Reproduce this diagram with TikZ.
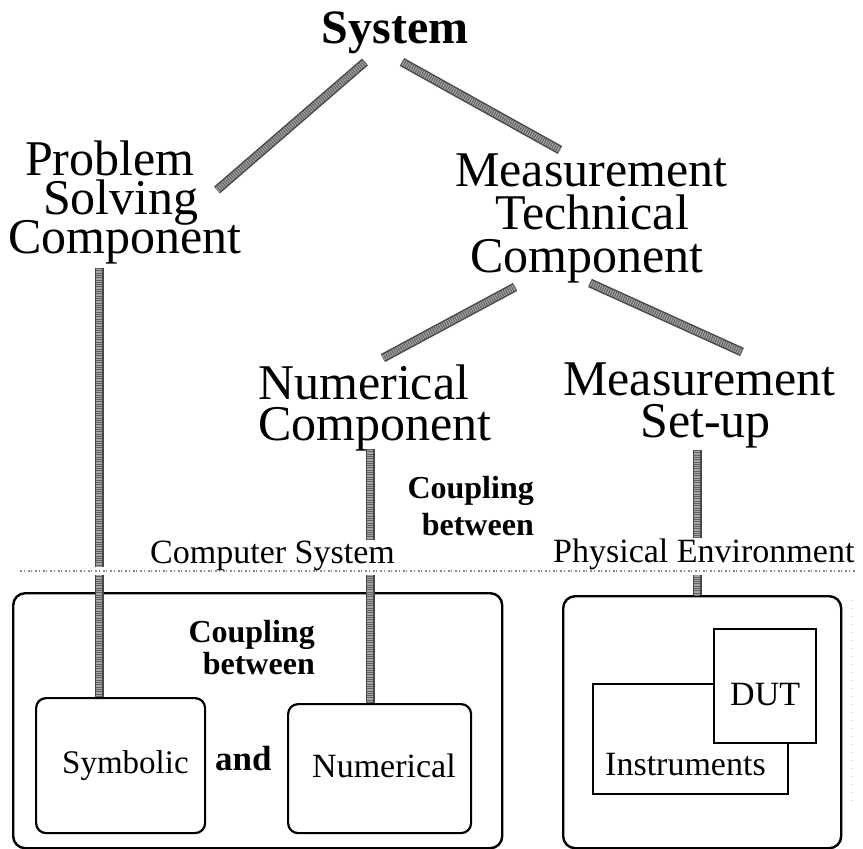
\documentclass[tikz,border=0pt]{standalone}
\usepackage{fontspec}
\setmainfont{Liberation Serif}
\tikzset{
  heading/.style={inner sep=0pt, anchor=base west, align=left,
    font=\fontsize{50}{#1}\selectfont},
  heading/.default=40,
  txt/.style={inner sep=0pt, anchor=base west, font=\fontsize{34}{34}\selectfont},
  coupling/.style={inner sep=0pt, anchor=base east, align=right,
    font=\fontsize{32}{#1}\selectfont\bfseries},
  coupling/.default=34,
  outerbox/.style={draw, line width=2.4pt, rounded corners=12pt, inner sep=0pt, anchor=north west},
  roundbox/.style={draw, line width=2.2pt, rounded corners=10pt, inner sep=0pt, anchor=north west},
  plainbox/.style={draw, line width=2.2pt, inner sep=0pt, anchor=north west, fill=white},
  bar/.style={line width=9pt, draw=black!72, line cap=butt,
    postaction={draw=black!35, line width=6pt},
    postaction={draw=black!62, line width=6pt, dash pattern=on 1pt off 1.3pt}},
  sepline/.style={draw=black!45, line width=1.3pt,
    dash pattern=on 2pt off 1.5pt on 1pt off 3pt,
    preaction={draw=white, line width=8pt, solid}},
  faintline/.style={draw=black!25, line width=1pt, dash pattern=on 1pt off 7pt},
}
\begin{document}
\lineskiplimit=-100pt
\begin{tikzpicture}[x=1pt,y=1pt]
\useasboundingbox (0,0) rectangle (863,-849);

% hierarchy labels (multi-line nodes sit on the baseline of their last line)
\node[heading, font=\fontsize{48}{48}\selectfont\bfseries, anchor=base] (sys) at (395,-43) {System};
\node[heading=39] (psc) at (8,-253) {\hskip17pt Problem\\\hskip35pt Solving\\Component};
\node[heading=43] (mtc) at (455,-272) {Measurement\\\hskip40pt Technical\\\hskip15pt Component};
\node[heading=41] (nc) at (258,-440) {Numerical\\Component};
\node[heading=42] (msu) at (563,-437) {Measurement\\\hskip77pt Set-up};

% environment frames and their contents
\node[outerbox, minimum width=489pt, minimum height=255pt] (comp) at (12,-592) {};
\node[outerbox, minimum width=278pt, minimum height=252pt] (phys) at (562,-595) {};
\node[roundbox, minimum width=169pt, minimum height=135pt] (sym) at (35,-697) {};
\node[roundbox, minimum width=183pt, minimum height=129pt] (num) at (287,-703) {};
\node[plainbox, minimum width=195pt, minimum height=110pt] (instr) at (592,-683) {};
\node[plainbox, minimum width=102pt, minimum height=114pt] (dut) at (713,-628) {};

% branch ends
\coordinate (sys-l) at (365,-62);
\coordinate (psc-top) at (217,-190);
\coordinate (sys-r) at (402,-62);
\coordinate (mtc-top) at (560,-150);
\coordinate (mtc-l) at (515,-287);
\coordinate (nc-top) at (383,-358);
\coordinate (mtc-r) at (590,-283);
\coordinate (msu-top) at (742,-352);
\coordinate (psc-foot) at (99,-268);
\coordinate (nc-foot) at (370,-449);
\coordinate (msu-foot) at (697,-450);

% tree branches
\draw[bar] (sys-l) -- (psc-top);
\draw[bar] (sys-r) -- (mtc-top);
\draw[bar] (mtc-l) -- (nc-top);
\draw[bar] (mtc-r) -- (msu-top);
\draw[bar] (psc-foot) -- (psc-foot |- sym.north);
\draw[bar] (nc-foot) -- (nc-foot |- num.north);
\draw[bar] (msu-foot) -- (msu-foot |- phys.north);

% separator between the two environments
\coordinate (sep-w) at (20,-571);
\coordinate (sep-e) at (855,-571);
\draw[sepline] (sep-w) -- (sep-e);
\coordinate (edge-n) at (852,-600);
\coordinate (edge-s) at (852,-805);
\draw[faintline] (edge-n) -- (edge-s);

% labels
\node[txt, fill=white] (cslabel) at (150,-563) {Computer System};
\node[txt, fill=white] (pelabel) at (553,-562) {Physical Environment};
\node[coupling=37] (cpl-up) at (534,-535) {Coupling\\between};
\node[coupling=32] (cpl-in) at (315,-674) {Coupling\\between};
\node[txt, font=\fontsize{33}{33}\selectfont] (symtext) at (62,-773) {Symbolic};
\node[txt, font=\fontsize{35}{35}\selectfont\bfseries] (andtext) at (215,-770) {and};
\node[txt] (numtext) at (312,-777) {Numerical};
\node[txt] (duttext) at (730,-705) {DUT};
\node[txt] (instrtext) at (605,-775) {Instruments};
\end{tikzpicture}
\end{document}
